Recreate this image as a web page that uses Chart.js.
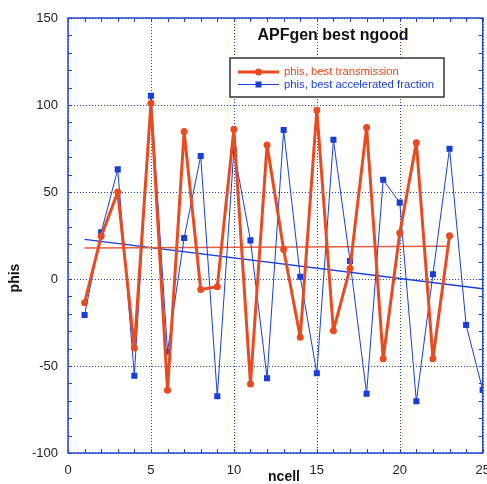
<!DOCTYPE html>
<html>
<head>
<meta charset="utf-8">
<script src="https://cdn.jsdelivr.net/npm/chart.js@4"></script>
<style>
  html, body { margin: 0; padding: 0; background: #fff; overflow: hidden; }
  #wrap { width: 487px; height: 484px; position: relative; }
  #chart { display: block; }
</style>
</head>
<body>
<div id="wrap"><canvas id="chart"></canvas></div>
<script>
// ---- data ----
const ncell = [1, 2, 3, 4, 5, 6, 7, 8, 9, 10, 11, 12, 13, 14, 15, 16, 17, 18, 19, 20, 21, 22, 23, 24, 25];
const phisTransmission = [-13.6, 24.5, 50, -39.7, 101, -64, 84.7, -6, -4.4, 86, -60.3, 77, 17, -33.5, 97, -29.7, 6.1, 87, -45.8, 26.4, 78.3, -45.8, 24.9];
const phisAccelerated = [-20.7, 26.8, 63, -55.6, 105.3, -41.8, 23.6, 70.7, -67.4, 74, 22.2, -57, 85.6, 1.3, -54.2, 80, 10.3, -65.9, 57, 43.9, -70.3, 2.7, 74.9, -26.4, -63.8];

// linear fits drawn on the original plot (end points)
const transmissionFitX = [1, 23];
const transmissionFitY = [17.8, 18.8];
const acceleratedFitX = [1, 25];
const acceleratedFitY = [22.8, -5.6];

const xTicks = [0, 5, 10, 15, 20, 25];
const yTicks = [-100, -50, 0, 50, 100, 150];

const RED = "#ea4a1f";
const BLUE = "#1a3ed8";
const AXIS_BLUE = "#2446cc";

function pairs(xs, ys) {
  return ys.map((y, i) => ({ x: xs[i], y: y }));
}

// frame, inward ticks, dotted grid, title, legend, axis titles
const decorations = {
  id: "decorations",
  beforeDatasetsDraw(chart) {
    const { ctx, chartArea: a, scales: { x, y } } = chart;
    ctx.save();
    ctx.strokeStyle = AXIS_BLUE;
    ctx.lineWidth = 1;
    ctx.setLineDash([1, 2]);
    xTicks.forEach(v => {
      const px = Math.round(x.getPixelForValue(v)) + 0.5;
      ctx.beginPath(); ctx.moveTo(px, a.top); ctx.lineTo(px, a.bottom); ctx.stroke();
    });
    yTicks.forEach(v => {
      const py = Math.round(y.getPixelForValue(v)) + 0.5;
      ctx.beginPath(); ctx.moveTo(a.left, py); ctx.lineTo(a.right, py); ctx.stroke();
    });
    ctx.restore();
  },
  afterDatasetsDraw(chart) {
    const { ctx, chartArea: a, scales: { x, y } } = chart;
    ctx.save();

    // frame
    ctx.strokeStyle = AXIS_BLUE;
    ctx.lineWidth = 1.5;
    ctx.strokeRect(a.left, a.top, a.right - a.left, a.bottom - a.top);

    // minor ticks pointing inward
    ctx.lineWidth = 1;
    const len = 4;
    for (let v = 0; v <= 25; v++) {
      const px = Math.round(x.getPixelForValue(v)) + 0.5;
      ctx.beginPath();
      ctx.moveTo(px, a.bottom); ctx.lineTo(px, a.bottom - len);
      ctx.moveTo(px, a.top); ctx.lineTo(px, a.top + len);
      ctx.stroke();
    }
    for (let v = -100; v <= 150; v += 10) {
      const py = Math.round(y.getPixelForValue(v)) + 0.5;
      ctx.beginPath();
      ctx.moveTo(a.left, py); ctx.lineTo(a.left + len, py);
      ctx.moveTo(a.right, py); ctx.lineTo(a.right - len, py);
      ctx.stroke();
    }

    // title inside plot
    ctx.fillStyle = "#111";
    ctx.font = "bold 16px 'Liberation Sans', Arial, sans-serif";
    ctx.textAlign = "center";
    ctx.textBaseline = "middle";
    ctx.fillText("APFgen best ngood", 333, 36);

    // legend box
    const bx = 230, by = 58, bw = 214, bh = 39;
    ctx.fillStyle = "#fff";
    ctx.fillRect(bx, by, bw, bh);
    ctx.strokeStyle = "#333";
    ctx.lineWidth = 1.5;
    ctx.strokeRect(bx, by, bw, bh);

    // legend entries
    ctx.lineWidth = 3;
    ctx.strokeStyle = RED;
    ctx.beginPath(); ctx.moveTo(238, 72); ctx.lineTo(279, 72); ctx.stroke();
    ctx.fillStyle = RED;
    ctx.beginPath(); ctx.arc(258.5, 72, 3.5, 0, Math.PI * 2); ctx.fill();

    ctx.lineWidth = 1;
    ctx.strokeStyle = BLUE;
    ctx.beginPath(); ctx.moveTo(238, 84.5); ctx.lineTo(279, 84.5); ctx.stroke();
    ctx.fillStyle = BLUE;
    ctx.fillRect(255.5, 81.5, 6, 6);

    ctx.font = "11.3px 'Liberation Sans', Arial, sans-serif";
    ctx.textAlign = "left";
    ctx.fillStyle = RED;
    ctx.fillText("phis, best transmission", 284, 72);
    ctx.fillStyle = BLUE;
    ctx.fillText("phis, best accelerated fraction", 284, 84.5);

    // axis titles
    ctx.fillStyle = "#111";
    ctx.font = "bold 14px 'Liberation Sans', Arial, sans-serif";
    ctx.textAlign = "center";
    ctx.fillText("ncell", 284, 477);
    ctx.translate(15, 278);
    ctx.rotate(-Math.PI / 2);
    ctx.fillText("phis", 0, 0);

    ctx.restore();
  }
};

const chart = new Chart(document.getElementById("chart"), {
  type: "line",
  data: {
    datasets: [
      {
        label: "phis, best transmission",
        data: pairs(ncell, phisTransmission),
        borderColor: RED,
        backgroundColor: RED,
        borderWidth: 3,
        borderJoinStyle: "round",
        pointStyle: "circle",
        pointRadius: 3.5,
        pointBorderWidth: 0,
        order: 1
      },
      {
        label: "phis, best accelerated fraction",
        data: pairs(ncell, phisAccelerated),
        borderColor: BLUE,
        backgroundColor: BLUE,
        borderWidth: 1,
        borderJoinStyle: "round",
        pointStyle: "rect",
        pointRadius: 4.3,
        pointBorderWidth: 0,
        order: 2
      },
      {
        label: "fit transmission",
        data: pairs(transmissionFitX, transmissionFitY),
        borderColor: "#e0603f",
        borderWidth: 1.5,
        pointRadius: 0,
        order: 3
      },
      {
        label: "fit accelerated",
        data: pairs(acceleratedFitX, acceleratedFitY),
        borderColor: BLUE,
        borderWidth: 1.3,
        pointRadius: 0,
        order: 4
      }
    ]
  },
  options: {
    responsive: true,
    maintainAspectRatio: false,
    animation: false,
    layout: { padding: { top: 18, right: 4, left: 0, bottom: 0 } },
    plugins: {
      legend: { display: false },
      tooltip: { enabled: false }
    },
    scales: {
      x: {
        type: "linear",
        min: 0,
        max: 25,
        afterFit: s => {
          s.height = 31;
          s.paddingLeft = 0;
          s.paddingRight = 0;
        },
        afterBuildTicks: s => { s.ticks = xTicks.map(v => ({ value: v })); },
        ticks: {
          padding: 10,
          color: "#222",
          font: { family: "'Liberation Sans', Arial, sans-serif", size: 13 }
        },
        grid: { display: false, drawTicks: false },
        border: { display: false }
      },
      y: {
        type: "linear",
        min: -100,
        max: 150,
        afterFit: s => {
          s.width = 68;
          s.paddingTop = 0;
          s.paddingBottom = 0;
        },
        afterBuildTicks: s => { s.ticks = yTicks.map(v => ({ value: v })); },
        ticks: {
          padding: 10,
          color: "#222",
          font: { family: "'Liberation Sans', Arial, sans-serif", size: 13 }
        },
        grid: { display: false, drawTicks: false },
        border: { display: false }
      }
    }
  },
  plugins: [decorations]
});
</script>
</body>
</html>
